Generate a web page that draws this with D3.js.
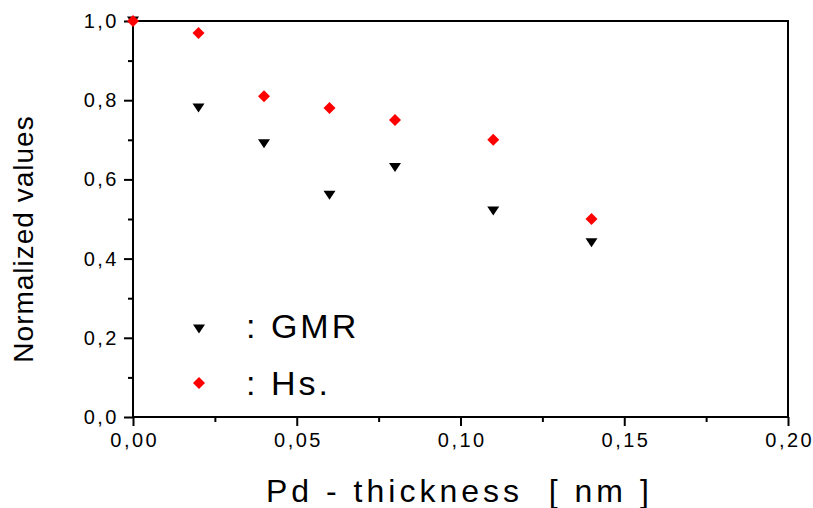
<!DOCTYPE html>
<html>
<head>
<meta charset="utf-8">
<script src="https://cdn.jsdelivr.net/npm/d3@7"></script>
<style>
  html, body { margin: 0; padding: 0; background: #fff; }
  svg { display: block; }
  text { font-family: "Liberation Sans", Arial, sans-serif; fill: #000; }
</style>
</head>
<body>
<svg id="chart" width="813" height="508"></svg>
<script>
// Pd layer thickness (nm)
const thickness = [0.00, 0.02, 0.04, 0.06, 0.08, 0.11, 0.14];
// Normalized GMR ratio
const gmrValues = [1.00, 0.78, 0.69, 0.56, 0.63, 0.52, 0.44];
// Normalized saturation field Hs
const hsValues = [1.00, 0.97, 0.81, 0.78, 0.75, 0.70, 0.50];

const xTicks = [0.00, 0.05, 0.10, 0.15, 0.20];
const xMinorTicks = [0.025, 0.075, 0.125, 0.175];
const yTicks = [0.0, 0.2, 0.4, 0.6, 0.8, 1.0];
const yMinorTicks = [0.1, 0.3, 0.5, 0.7, 0.9];

const legendLabels = [": GMR", ": Hs."];

const svg = d3.select("#chart");
const plot = { left: 133, right: 788, top: 21, bottom: 417 };

const x = d3.scaleLinear().domain([0, 0.20]).range([plot.left, plot.right]);
const y = d3.scaleLinear().domain([0, 1.0]).range([plot.bottom, plot.top]);

const commaFmt = (digits) => (v) => d3.format("." + digits + "f")(v).replace(".", ",");

// frame
svg.append("rect")
  .attr("x", plot.left).attr("y", plot.top)
  .attr("width", plot.right - plot.left).attr("height", plot.bottom - plot.top)
  .attr("fill", "none").attr("stroke", "#000").attr("stroke-width", 2);

// bottom axis: major ticks with labels, minor ticks without
const xAxis = svg.append("g").attr("transform", `translate(0,${plot.bottom})`)
  .call(d3.axisBottom(x).tickValues(xTicks).tickFormat(commaFmt(2)).tickSize(9).tickPadding(7));
const xMinor = svg.append("g").attr("transform", `translate(0,${plot.bottom})`)
  .call(d3.axisBottom(x).tickValues(xMinorTicks).tickFormat("").tickSize(5));

// left axis
const yAxis = svg.append("g").attr("transform", `translate(${plot.left},0)`)
  .call(d3.axisLeft(y).tickValues(yTicks).tickFormat(commaFmt(1)).tickSize(9).tickPadding(5));
const yMinor = svg.append("g").attr("transform", `translate(${plot.left},0)`)
  .call(d3.axisLeft(y).tickValues(yMinorTicks).tickFormat("").tickSize(5));

[xAxis, xMinor, yAxis, yMinor].forEach(g => {
  g.select(".domain").remove();
  g.selectAll(".tick line").attr("stroke", "#000").attr("stroke-width", 2);
  g.selectAll(".tick text")
    .style("font-family", '"Liberation Sans", Arial, sans-serif')
    .style("font-size", "20px").style("letter-spacing", "2.5px").attr("fill", "#000");
});
xAxis.selectAll(".tick text").attr("dx", "1.25px");

// marker shapes
const triangleDown = (cx, cy) => `M${cx - 6},${cy - 4.5}L${cx + 6},${cy - 4.5}L${cx},${cy + 4.5}Z`;
const diamond = (cx, cy) => `M${cx},${cy - 6}L${cx + 6},${cy}L${cx},${cy + 6}L${cx - 6},${cy}Z`;

// GMR points
svg.append("g").selectAll("path")
  .data(thickness.map((t, i) => [t, gmrValues[i]]))
  .join("path")
  .attr("d", d => triangleDown(x(d[0]), y(d[1])))
  .attr("fill", "#000");

// Hs points
svg.append("g").selectAll("path")
  .data(thickness.map((t, i) => [t, hsValues[i]]))
  .join("path")
  .attr("d", d => diamond(x(d[0]), y(d[1])))
  .attr("fill", "#ff0000");

// legend
const legend = svg.append("g");
legend.append("path").attr("d", triangleDown(199, 329)).attr("fill", "#000");
legend.append("path").attr("d", diamond(199, 383)).attr("fill", "#ff0000");
legend.append("text").attr("x", 246).attr("y", 338)
  .style("font-size", "34px").style("letter-spacing", "3px").text(legendLabels[0]);
legend.append("text").attr("x", 246).attr("y", 395)
  .style("font-size", "34px").style("letter-spacing", "3px").text(legendLabels[1]);

// axis titles
svg.append("text")
  .attr("x", 266).attr("y", 502)
  .style("font-size", "32px").style("letter-spacing", "4px")
  .attr("xml:space", "preserve")
  .text("Pd - thickness  [ nm ]");

svg.append("text")
  .attr("transform", `translate(33,${(plot.top + plot.bottom) / 2 + 20}) rotate(-90)`)
  .attr("text-anchor", "middle")
  .style("font-size", "28px").style("letter-spacing", "1px")
  .text("Normalized values");
</script>
</body>
</html>
